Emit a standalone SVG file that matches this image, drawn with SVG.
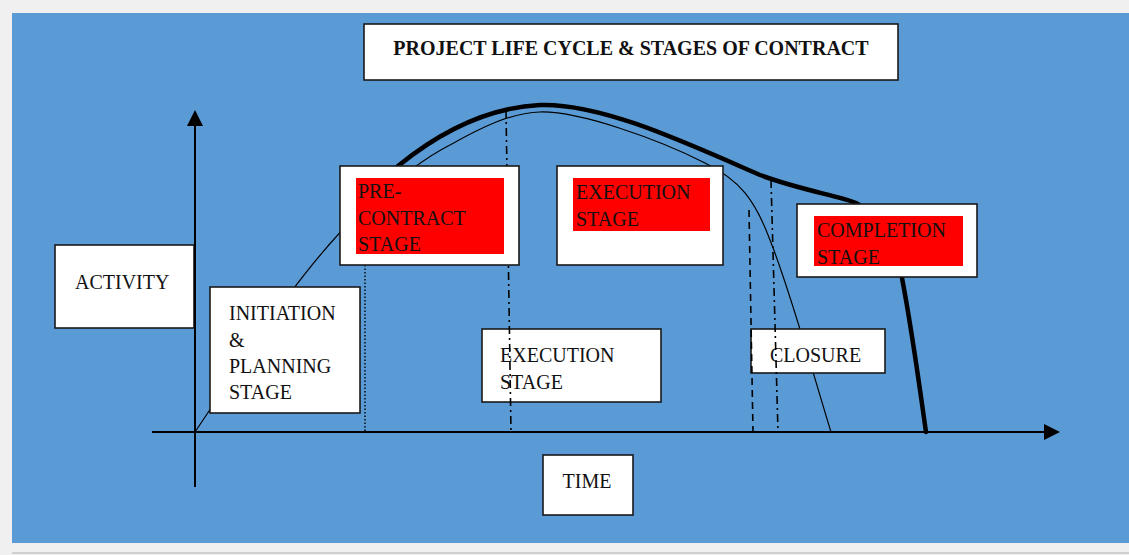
<svg xmlns="http://www.w3.org/2000/svg" width="1129" height="555" viewBox="0 0 1129 555">
<defs>
<style>
.box{fill:#ffffff;stroke:#1a1a1a;stroke-width:1.6}
.red{fill:#ff0000}
.t{font-family:"Liberation Serif","Times New Roman",serif;font-size:20px;fill:#111}
.title{font-family:"Liberation Serif","Times New Roman",serif;font-size:20px;font-weight:bold;fill:#111}
.axis{stroke:#000;stroke-width:2;fill:none}
.thin{stroke:#000;stroke-width:1.2;fill:none}
.thick{stroke:#000;stroke-width:4.5;fill:none;stroke-linecap:round}
.dot{stroke:#000;stroke-width:1.4;stroke-dasharray:1.5 2;fill:none}
.dash{stroke:#000;stroke-width:1.6;stroke-dasharray:7 5;fill:none}
.dashdot{stroke:#000;stroke-width:1.6;stroke-dasharray:8 4 2 4;fill:none}
</style>
<marker id="arr" markerWidth="10" markerHeight="10" refX="9" refY="5" orient="auto" markerUnits="userSpaceOnUse" viewBox="0 0 10 10">
<path d="M0,0 L10,5 L0,10 Z" fill="#000"/>
</marker>
<marker id="arrL" markerWidth="16" markerHeight="16" refX="14" refY="8" orient="auto" markerUnits="userSpaceOnUse" viewBox="0 0 16 16">
<path d="M0,0 L16,8 L0,16 Z" fill="#000"/>
</marker>
</defs>
<rect x="0" y="0" width="1129" height="555" fill="#f0f0f0"/>
<rect x="12" y="13" width="1117" height="530" fill="#5b9bd5"/>
<line x1="12" y1="553" x2="1129" y2="553" stroke="#cfcfcf" stroke-width="2"/>

<g id="title">
<rect class="box" x="364" y="24" width="534" height="56"/>
<text class="title" x="631" y="55" text-anchor="middle">PROJECT LIFE CYCLE &amp; STAGES OF CONTRACT</text>
</g>

<g id="curves">
<path class="thin" d="M195,432 C250,350 300,270 360,212 C390,185 420,160 450,145 C480,128 510,113 540,112 C580,111 660,140 705,163 C740,180 755,200 770,240 C790,290 815,380 831,432"/>
<path class="thick" d="M398,166 C430,140 480,108 540,105 C600,103 680,140 760,175 C800,190 840,196 856,203 C880,215 895,250 902,278 C912,330 920,390 926,432"/>
</g>

<g id="activity">
<rect class="box" x="55" y="245" width="139" height="83"/>
<text class="t" x="75" y="289">ACTIVITY</text>
</g>
<g id="initiation">
<rect class="box" x="210" y="287" width="150" height="126"/>
<text class="t" x="229" y="320">INITIATION</text>
<text class="t" x="229" y="347">&amp;</text>
<text class="t" x="229" y="373">PLANNING</text>
<text class="t" x="229" y="399">STAGE</text>
</g>
<g id="execution-bottom">
<rect class="box" x="482" y="329" width="179" height="73"/>
<text class="t" x="500" y="362">EXECUTION</text>
<text class="t" x="500" y="389">STAGE</text>
</g>
<g id="closure">
<rect class="box" x="751" y="329" width="134" height="44"/>
<text class="t" x="770" y="362">CLOSURE</text>
</g>
<g id="time">
<rect class="box" x="543" y="455" width="90" height="60"/>
<text class="t" x="587" y="488" text-anchor="middle">TIME</text>
</g>

<g id="connectors">
<line class="axis" x1="195" y1="487" x2="195" y2="112" marker-end="url(#arrL)"/>
<line class="axis" x1="152" y1="432" x2="1058" y2="432" marker-end="url(#arrL)"/>
<line class="dot" x1="365" y1="265" x2="365" y2="432"/>
<line class="dashdot" x1="506" y1="110" x2="511" y2="432"/>
<line class="dash" x1="749" y1="210" x2="753" y2="432"/>
<line class="dashdot" x1="771" y1="180" x2="778" y2="432"/>
</g>

<g id="pre-contract">
<rect class="box" x="340" y="166" width="179" height="99"/>
<rect class="red" x="356" y="178" width="148" height="76"/>
<text class="t" x="358" y="198">PRE-</text>
<text class="t" x="358" y="224.5">CONTRACT</text>
<text class="t" x="358" y="251">STAGE</text>
</g>
<g id="execution-top">
<rect class="box" x="557" y="166" width="166" height="99"/>
<rect class="red" x="573" y="178" width="137" height="53"/>
<text class="t" x="576" y="199">EXECUTION</text>
<text class="t" x="576" y="226">STAGE</text>
</g>
<g id="completion">
<rect class="box" x="797" y="204" width="180" height="73"/>
<rect class="red" x="814" y="216" width="149" height="50"/>
<text class="t" x="817" y="237">COMPLETION</text>
<text class="t" x="817" y="264">STAGE</text>
</g>
</svg>
